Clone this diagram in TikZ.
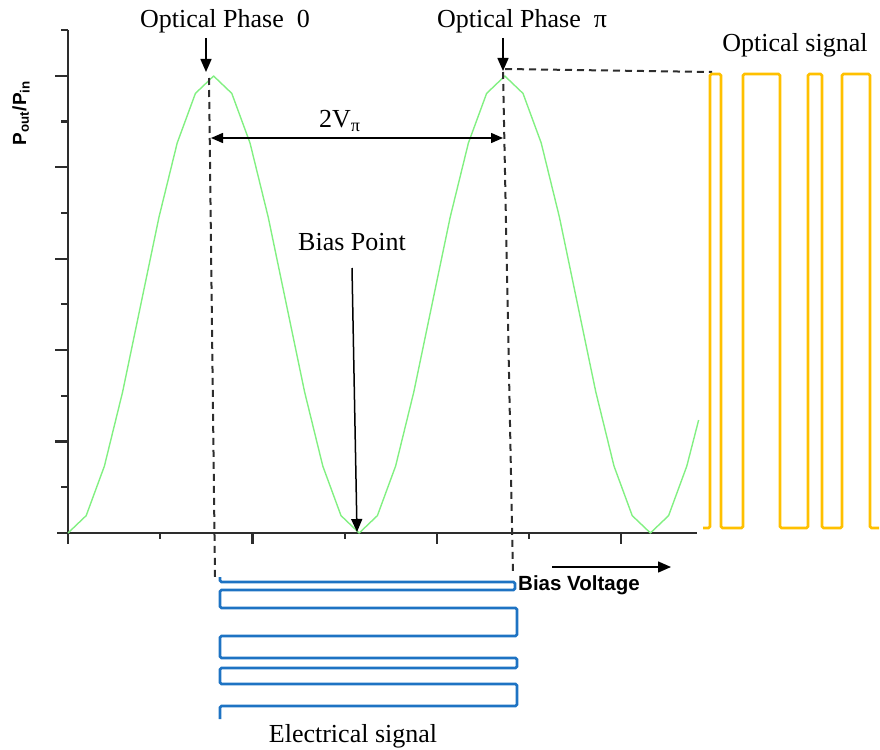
\documentclass[tikz,border=0pt]{standalone}
\usepackage{fontspec}
\setmainfont{Liberation Serif}
\newfontfamily\sansf{Liberation Sans}
\usetikzlibrary{arrows.meta}
\definecolor{curvegreen}{RGB}{130,240,130}
\definecolor{optorange}{RGB}{255,192,0}
\definecolor{elecblue}{RGB}{30,115,195}
\definecolor{axisgray}{RGB}{45,45,45}
\begin{document}
\begin{tikzpicture}[x=1pt,y=-1pt,
  axisline/.style={line width=2.6pt,draw=axisgray},
  tickline/.style={line width=2.2pt,draw=axisgray},
  curve/.style={line width=1.4pt,draw=curvegreen,line join=round},
  guide/.style={line width=2pt,dash pattern=on 7pt off 5pt,draw=axisgray},
  pointer/.style={line width=1.5pt,draw=black,-{Triangle[length=13pt,width=11pt]}},
  dblpointer/.style={line width=1.5pt,draw=black,{Triangle[length=12pt,width=10pt]}-{Triangle[length=12pt,width=10pt]}},
  lbl/.style={font=\fontsize{26}{30}\selectfont,inner sep=0pt,anchor=base},
  sanslbl/.style={font=\sansf\bfseries\fontsize{20.5}{24}\selectfont,inner sep=0pt,anchor=base west},
  optwave/.style={line width=2.8pt,draw=optorange,rounded corners=1.5pt},
  elecwave/.style={line width=2.8pt,draw=elecblue,rounded corners=1.5pt}
]
\useasboundingbox (0,0) rectangle (880,749);

% axes
\draw[axisline] (68,30) -- (68,544);
\draw[axisline] (57,533) -- (697,533);
\foreach \k in {0,2,4,6,8,10}{\draw[tickline] (61,{30+45.73*\k}) -- (68,{30+45.73*\k});}
\foreach \k in {1,3,5,7,9}{\draw[tickline] (55,{30+45.73*\k}) -- (68,{30+45.73*\k});}
\foreach \k in {2,4,6}{\draw[tickline] ({68+92.2*\k},533) -- ({68+92.2*\k},544);}
\foreach \k in {1,3,5}{\draw[tickline] ({68+92.2*\k},533) -- ({68+92.2*\k},539);}

% transfer curve
\draw[curve] plot[samples at={0,1,...,34,34.65}] ({68+18.2*\x},{533-457*pow(sin(11.25*\x),2)});

% guide lines
\coordinate (pk0) at (209,78);
\coordinate (pk0b) at (215,577);
\coordinate (pk1) at (503,72);
\coordinate (pk1b) at (513,575);
\coordinate (pk1r) at (505,69);
\coordinate (optstart) at (712,72);
\draw[guide] (pk0) -- (pk0b);
\draw[guide] (pk1) -- (pk1b);
\draw[guide] (pk1r) -- (optstart);

% labels
\node[lbl] (ph0) at (225,28) {Optical Phase\enspace 0};
\node[lbl] (phpi) at (522,28) {Optical Phase\enspace π};
\node[lbl] (optsig) at (795,52) {Optical signal};
\node[lbl] (bias) at (352,250) {Bias Point};
\node[lbl] (elsig) at (353,742) {Electrical signal};
\node[lbl,anchor=base west] (vpi) at (319,128) {2V\textsubscript{π}};
\node[sanslbl] (bv) at (518,590) {Bias Voltage};
\node[font=\sansf\bfseries\fontsize{19}{22}\selectfont,rotate=90,inner sep=0pt] (ylab) at (21,113) {P\textsubscript{out}/P\textsubscript{in}};

% arrows
\coordinate (a0s) at (206,38);
\coordinate (a0e) at (206,72);
\coordinate (a1s) at (503,38);
\coordinate (a1e) at (503,71);
\coordinate (vl) at (211,138);
\coordinate (vr) at (503,138);
\coordinate (bps) at (352,268);
\coordinate (bpe) at (357,532);
\coordinate (bvs) at (552,567);
\coordinate (bve) at (671,567);
\draw[pointer] (a0s) -- (a0e);
\draw[pointer] (a1s) -- (a1e);
\draw[dblpointer] (vl) -- (vr);
\draw[pointer] (bps) -- (bpe);
\draw[pointer] (bvs) -- (bve);

% optical signal
\draw[optwave] (703,528) -- (710,528) -- (710,74) -- (721,74) -- (721,528) -- (743,528) -- (743,74) -- (780,74) -- (780,528) -- (808,528) -- (808,74) -- (822,74) -- (822,528) -- (842,528) -- (842,74) -- (870,74) -- (870,528) -- (879,528);

% electrical signal
\draw[elecwave] (220,577) -- (220,582) -- (515,582) -- (515,590) -- (220,590) -- (220,608) -- (517,608) -- (517,636) -- (220,636) -- (220,658) -- (517,658) -- (517,668) -- (220,668) -- (220,684) -- (517,684) -- (517,706) -- (220,706) -- (220,719);
\end{tikzpicture}
\end{document}
